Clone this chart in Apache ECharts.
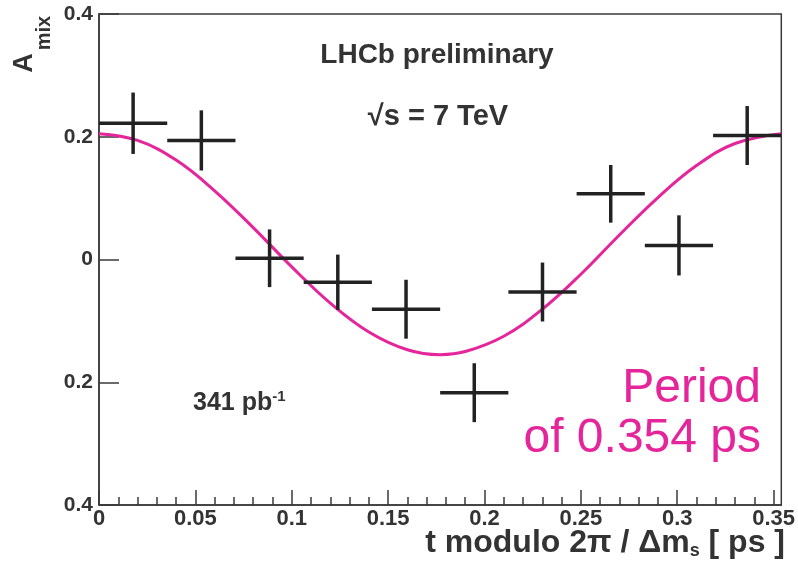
<!DOCTYPE html>
<html>
<head>
<meta charset="utf-8">
<title>LHCb mixing asymmetry</title>
<script src="https://cdn.jsdelivr.net/npm/echarts@6/dist/echarts.min.js"></script>
<style>
  html, body { margin: 0; padding: 0; background: #fff; }
  #chart { width: 798px; height: 565px; }
</style>
</head>
<body>
<div id="chart"></div>
<script>
// Folded decay time bins (centre, half width) and the measured mixing asymmetry
const binCenters = [0.0177, 0.0531, 0.0885, 0.1239, 0.1593, 0.1947, 0.2301, 0.2655, 0.3009, 0.3363];
const binHalfWidth = 0.0177;
const asym = [0.222, 0.194, 0.002, -0.037, -0.081, -0.217, -0.053, 0.107, 0.023, 0.202];
const asymErr = [0.050, 0.049, 0.047, 0.045, 0.048, 0.048, 0.048, 0.047, 0.049, 0.048];

// Oscillation fit curve, sampled along t
const fitT = [0, 0.02, 0.04, 0.06, 0.08, 0.10, 0.12, 0.14, 0.16, 0.177, 0.19, 0.21, 0.23, 0.25, 0.27, 0.29, 0.31, 0.33, 0.354];
const fitA = [0.205, 0.194, 0.162, 0.112, 0.052, -0.012, -0.071, -0.118, -0.147, -0.155, -0.150, -0.125, -0.081, -0.024, 0.040, 0.101, 0.153, 0.189, 0.205];

// Axis ticks and labels
const xMajorTicks = [0, 0.05, 0.1, 0.15, 0.2, 0.25, 0.3, 0.35];
const xTickLabels = ['0', '0.05', '0.1', '0.15', '0.2', '0.25', '0.3', '0.35'];
const xMinorTicks = [];
for (let i = 1; i <= 35; i++) { if (i % 5 !== 0) xMinorTicks.push(i / 100); }
const yTicks = [-0.4, -0.2, 0, 0.2, 0.4];
const yTickLabels = ['0.4', '0.2', '0', '0.2', '0.4'];

const xMax = 0.354;
const ink = '#222';
const axisInk = '#3a3a3a';
const magenta = '#e5259a';
const font = 'Liberation Sans, Arial, Helvetica, sans-serif';

const chart = echarts.init(document.getElementById('chart'), null, { renderer: 'canvas' });

const option = {
  backgroundColor: '#fff',
  animation: false,
  grid: {
    left: 99, top: 14, right: 14, bottom: 60,
    show: true, borderColor: axisInk, borderWidth: 1.5, backgroundColor: '#fff'
  },
  xAxis: [
    {
      type: 'value', min: 0, max: xMax, position: 'bottom',
      axisLine: { show: true, onZero: false, lineStyle: { color: axisInk, width: 1.5 } },
      axisTick: { show: true, inside: true, length: 15, customValues: xMajorTicks, lineStyle: { color: axisInk, width: 1.5 } },
      axisLabel: {
        customValues: xMajorTicks,
        margin: 3,
        color: '#333', fontFamily: font, fontWeight: 'bold', fontSize: 22,
        formatter: (v) => {
          const i = xMajorTicks.findIndex(t => Math.abs(t - v) < 1e-9);
          return i >= 0 ? xTickLabels[i] : '';
        }
      },
      splitLine: { show: false }
    },
    {
      type: 'value', min: 0, max: xMax, position: 'bottom', offset: 0,
      axisLine: { show: false, onZero: false },
      axisTick: { show: true, inside: true, length: 8, customValues: xMinorTicks, lineStyle: { color: axisInk, width: 1.5 } },
      axisLabel: { show: false },
      splitLine: { show: false }
    }
  ],
  yAxis: {
    type: 'value', min: -0.4, max: 0.4, interval: 0.2,
    axisLine: { show: true, onZero: false, lineStyle: { color: axisInk, width: 1.5 } },
    axisTick: { show: true, inside: true, length: 20, lineStyle: { color: axisInk, width: 1.5 } },
    axisLabel: {
      margin: 6,
      color: '#333', fontFamily: font, fontWeight: 'bold', fontSize: 21,
      formatter: (v) => {
        const i = yTicks.findIndex(t => Math.abs(t - v) < 1e-9);
        return i >= 0 ? yTickLabels[i] : '';
      }
    },
    splitLine: { show: false }
  },
  series: [
    {
      name: 'fit',
      type: 'line',
      xAxisIndex: 0,
      data: fitT.map((t, i) => [t, fitA[i]]),
      smooth: 0.4,
      showSymbol: false,
      lineStyle: { color: magenta, width: 3 },
      z: 3
    },
    {
      name: 'data',
      type: 'custom',
      xAxisIndex: 0,
      data: binCenters.map((c, i) => [c, asym[i], asymErr[i], binHalfWidth]),
      renderItem: (params, api) => {
        const x = api.value(0), y = api.value(1), e = api.value(2), hw = api.value(3);
        const l = api.coord([x - hw, y]);
        const r = api.coord([x + hw, y]);
        const t = api.coord([x, y + e]);
        const b = api.coord([x, y - e]);
        const st = { stroke: ink, lineWidth: 3.5 };
        return {
          type: 'group',
          children: [
            { type: 'line', shape: { x1: l[0], y1: l[1], x2: r[0], y2: r[1] }, style: st },
            { type: 'line', shape: { x1: t[0], y1: t[1], x2: b[0], y2: b[1] }, style: st }
          ]
        };
      },
      z: 4
    }
  ],
  graphic: [
    // y-axis title A_mix (rotated)
    { type: 'text', x: 25, y: 63, rotation: Math.PI / 2, z: 10,
      style: { text: 'A', font: 'bold 27px ' + font, fill: '#333', align: 'center', verticalAlign: 'middle' } },
    { type: 'text', x: 44, y: 33, rotation: Math.PI / 2, z: 10,
      style: { text: 'mix', font: 'bold 20px ' + font, fill: '#333', align: 'center', verticalAlign: 'middle' } },
    // x-axis title
    { type: 'text', x: 785, y: 543, z: 10,
      style: {
        text: '{t|t modulo 2π / Δm}{s|s}{t| [ ps ]}',
        align: 'right', verticalAlign: 'middle',
        rich: {
          t: { font: 'bold 32px ' + font, fill: '#333', lineHeight: 34, verticalAlign: 'middle' },
          s: { font: 'bold 18px ' + font, fill: '#333', lineHeight: 15, verticalAlign: 'bottom' }
        }
      } },
    // annotations
    { type: 'text', x: 437, y: 55, z: 10,
      style: { text: 'LHCb preliminary', font: 'bold 28px ' + font, fill: '#333', align: 'center', verticalAlign: 'middle' } },
    { type: 'text', x: 438, y: 117, z: 10,
      style: { text: '√s = 7 TeV', font: 'bold 29px ' + font, fill: '#333', align: 'center', verticalAlign: 'middle' } },
    { type: 'text', x: 193, y: 403, z: 10,
      style: {
        text: '{n|341 pb}{u|-1}',
        align: 'left', verticalAlign: 'middle',
        rich: {
          n: { font: 'bold 25px ' + font, fill: '#333', lineHeight: 28, verticalAlign: 'middle' },
          u: { font: 'bold 15px ' + font, fill: '#333', lineHeight: 16, verticalAlign: 'top' }
        }
      } },
    { type: 'text', x: 761, y: 389, z: 10,
      style: { text: 'Period', font: '48px ' + font, fill: magenta, align: 'right', verticalAlign: 'middle' } },
    { type: 'text', x: 761, y: 439, z: 10,
      style: { text: 'of 0.354 ps', font: '48px ' + font, fill: magenta, align: 'right', verticalAlign: 'middle' } }
  ]
};

chart.setOption(option);
</script>
</body>
</html>
